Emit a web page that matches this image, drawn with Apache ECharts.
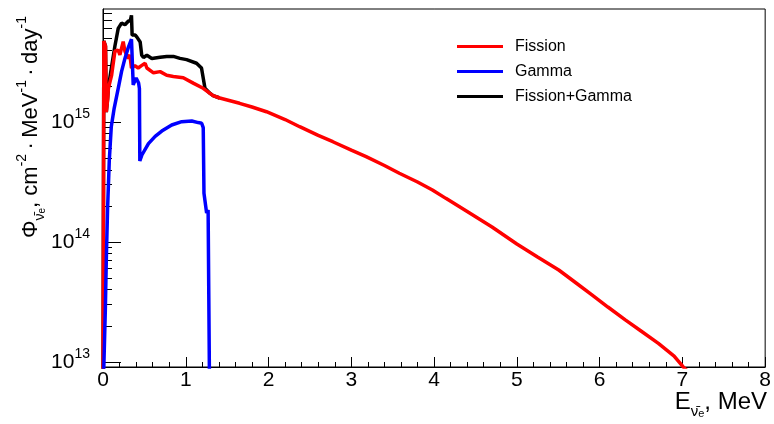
<!DOCTYPE html>
<html>
<head>
<meta charset="utf-8">
<script src="https://cdn.jsdelivr.net/npm/echarts@6/dist/echarts.min.js"></script>
<style>
  html, body { margin: 0; padding: 0; background: #fff; }
  #main { width: 774px; height: 424px; }
</style>
</head>
<body>
<div id="main"></div>
<script>
// energy in MeV, flux in cm^-2 MeV^-1 day^-1
var fissionE = [0, 0.01, 0.03, 0.04, 0.055, 0.065, 0.104, 0.144, 0.164, 0.184, 0.204, 0.244, 0.265, 0.305, 0.325, 0.344,
    0.385, 0.425, 0.465, 0.509, 0.53, 0.61, 0.69, 0.77, 0.85, 0.97, 1.09, 1.21, 1.33, 1.41, 1.65, 1.8, 1.975, 2.2,
    2.376, 2.6, 2.777, 3.0, 3.179, 3.4, 3.58, 3.8, 3.98, 4.142, 4.4, 4.7, 5.0, 5.25, 5.506, 5.7, 5.907, 6.1, 6.31,
    6.5, 6.71, 6.9, 7.01, 7.05];
var fissionPhi = [5e12, 4.73e15, 4.3e15, 1.21e15, 1.51e15, 1.91e15, 2.45e15, 3.89e15, 3.8e15, 3.98e15, 3.63e15, 4.68e15,
    3.89e15, 3.39e15, 3.63e15, 2.82e15, 2.95e15, 2.82e15, 2.95e15, 3.09e15, 2.82e15, 2.57e15, 2.63e15, 2.45e15,
    2.40e15, 2.34e15, 2.11e15, 1.91e15, 1.66e15, 1.585e15, 1.432e15, 1.334e15, 1.218e15, 1.049e15, 9.14e14, 7.73e14,
    6.85e14, 5.84e14, 5.14e14, 4.34e14, 3.74e14, 3.16e14, 2.71e14, 2.31e14, 1.795e14, 1.334e14, 9.62e13, 7.5e13,
    5.84e13, 4.64e13, 3.62e13, 2.87e13, 2.24e13, 1.81e13, 1.43e13, 1.12e13, 9.08e12, 8.58e12];

var gammaE = [0.008, 0.028, 0.04, 0.055, 0.076, 0.10, 0.135, 0.184, 0.224, 0.265, 0.305, 0.344, 0.365, 0.40, 0.43,
    0.44, 0.445, 0.47, 0.549, 0.63, 0.71, 0.83, 0.951, 1.072, 1.151, 1.192, 1.204, 1.211, 1.22, 1.252, 1.27,
    1.286, 1.288];
var gammaPhi = [8e12, 2.69e13, 7.08e13, 1.86e14, 4.79e14, 9.12e14, 1.3e15, 1.91e15, 2.63e15, 3.39e15, 4.17e15, 4.9e15,
    2.04e15, 2.33e15, 2.11e15, 1.9e15, 4.73e14, 5.31e14, 6.61e14, 7.59e14, 8.41e14, 9.44e14, 1.007e15, 1.02e15,
    9.89e14, 9.77e14, 1.0e15, 8.97e14, 2.55e14, 1.74e14, 1.85e14, 1.8e14, 5e12];

var sumE = [0, 0.01, 0.03, 0.04, 0.055, 0.065, 0.104, 0.144, 0.184, 0.224, 0.265, 0.305, 0.33, 0.344, 0.352, 0.39,
    0.41, 0.429, 0.449, 0.468, 0.489, 0.53, 0.59, 0.69, 0.77, 0.85, 0.93, 1.01, 1.13, 1.19, 1.211, 1.232, 1.29,
    1.33, 1.41];
var sumPhi = [5e12, 4.73e15, 4.3e15, 1.21e15, 1.55e15, 1.95e15, 2.9e15, 4.3e15, 6.03e15, 6.68e15, 6.46e15, 6.92e15,
    7.0e15, 7.76e15, 5.3e15, 5.3e15, 5.1e15, 5.0e15, 4.65e15, 3.6e15, 3.45e15, 3.6e15, 3.39e15, 3.47e15, 3.52e15,
    3.52e15, 3.39e15, 3.31e15, 3.09e15, 2.82e15, 2.82e15, 1.91e15, 1.74e15, 1.66e15, 1.585e15];

var yMajor = [13, 14, 15];
var legendNames = ['Fission', 'Gamma', 'Fission+Gamma'];

var yMin = 12.958, yMax = 15.942;
var font = 'Liberation Sans, Arial, sans-serif';

function toPoints(es, phis) {
    return es.map(function (e, i) { return [e, Math.log10(phis[i])]; });
}

// log-spaced minor ticks (2..9 x 10^n)
var yMinor = [];
for (var d = 12; d <= 15; d++) {
    for (var m = 2; m <= 9; m++) {
        var v = Math.log10(m) + d;
        if (v > yMin && v < yMax) yMinor.push(v);
    }
}

var option = {
    backgroundColor: '#fff',
    animation: false,
    grid: {
        left: 103, right: 7, top: 9, bottom: 57,
        show: true, borderColor: '#000', borderWidth: 1
    },
    legend: {
        data: legendNames,
        orient: 'vertical',
        left: 457, top: 34,
        padding: 0,
        icon: 'rect',
        itemWidth: 46, itemHeight: 3, itemGap: 0,
        textStyle: { fontSize: 16, fontFamily: font, color: '#000', lineHeight: 25, padding: [0, 0, 0, 7] }
    },
    xAxis: {
        type: 'value', min: 0, max: 8, interval: 1,
        axisLine: { show: true, lineStyle: { color: '#000', width: 1 } },
        axisTick: { inside: true, length: 10, lineStyle: { color: '#000' } },
        minorTick: { show: true, splitNumber: 5, length: 5, lineStyle: { color: '#000' } },
        axisLabel: { fontSize: 21, fontFamily: font, color: '#000', margin: 3 },
        splitLine: { show: false }
    },
    yAxis: [{
        type: 'value', min: yMin, max: yMax,
        axisLine: { show: true, lineStyle: { color: '#000', width: 1 } },
        axisTick: { inside: true, length: 18, customValues: yMajor, lineStyle: { color: '#000' } },
        axisLabel: {
            customValues: yMajor, margin: 13, color: '#000',
            formatter: function (v) { return '{b|10}{s|' + Math.round(v) + '}'; },
            rich: {
                b: { fontSize: 21, fontFamily: font, color: '#000', lineHeight: 30 },
                s: { fontSize: 14, fontFamily: font, color: '#000', verticalAlign: 'top', lineHeight: 16 }
            }
        },
        splitLine: { show: false }
    }, {
        type: 'value', min: yMin, max: yMax, position: 'left',
        axisLine: { show: false },
        axisTick: { inside: true, length: 9, customValues: yMinor, lineStyle: { color: '#000' } },
        axisLabel: { show: false },
        splitLine: { show: false }
    }],
    graphic: [{
        type: 'text',
        x: 31, y: 238, rotation: Math.PI / 2,
        style: {
            text: '{m|Φ}{sub|ν̄}{sub2|e}{m|, cm}{sup|-2}{m|\u2009·\u2009MeV}{sup|-1}{m|\u2009·\u2009day}{sup|-1}',
            align: 'left', verticalAlign: 'middle',
            rich: {
                m: { fontSize: 22, fontFamily: font, fill: '#000', lineHeight: 32 },
                sub: { fontSize: 14, fontFamily: font, fill: '#000', verticalAlign: 'bottom', lineHeight: 17 },
                sub2: { fontSize: 10, fontFamily: font, fill: '#000', verticalAlign: 'bottom', lineHeight: 11 },
                sup: { fontSize: 14, fontFamily: font, fill: '#000', verticalAlign: 'top', lineHeight: 17 }
            }
        }
    }, {
        type: 'text',
        x: 767, y: 402,
        style: {
            text: '{m|E}{sub|ν̄}{sub2|e}{m|, MeV}',
            align: 'right', verticalAlign: 'middle',
            rich: {
                m: { fontSize: 24, fontFamily: font, fill: '#000', lineHeight: 34 },
                sub: { fontSize: 15, fontFamily: font, fill: '#000', verticalAlign: 'bottom', lineHeight: 18 },
                sub2: { fontSize: 11, fontFamily: font, fill: '#000', verticalAlign: 'bottom', lineHeight: 12 }
            }
        }
    }],
    series: [{
        name: 'Fission+Gamma', type: 'line', symbol: 'none', showSymbol: false,
        lineStyle: { color: '#000', width: 3.5 }, itemStyle: { color: '#000' },
        data: toPoints(sumE, sumPhi)
    }, {
        name: 'Fission', type: 'line', symbol: 'none', showSymbol: false,
        lineStyle: { color: '#ff0000', width: 3.5 }, itemStyle: { color: '#ff0000' },
        data: toPoints(fissionE, fissionPhi)
    }, {
        name: 'Gamma', type: 'line', symbol: 'none', showSymbol: false,
        lineStyle: { color: '#0000ff', width: 3.5 }, itemStyle: { color: '#0000ff' },
        data: toPoints(gammaE, gammaPhi)
    }]
};

var myChart = echarts.init(document.getElementById('main'));
myChart.setOption(option);
</script>
</body>
</html>
